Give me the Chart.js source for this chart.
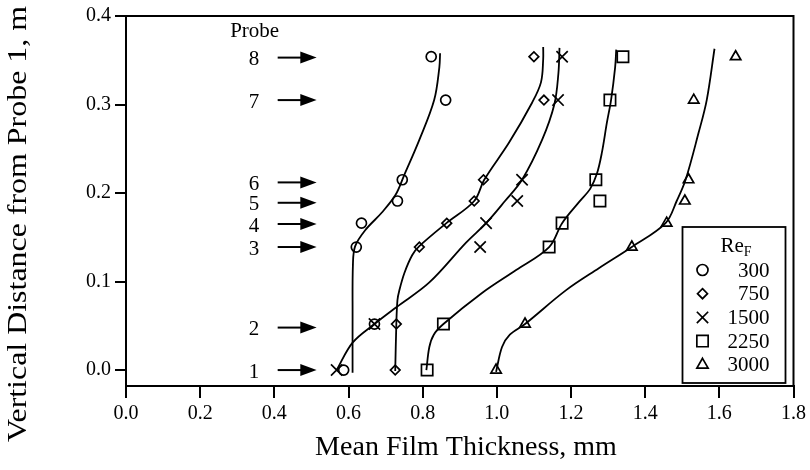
<!DOCTYPE html>
<html><head><meta charset="utf-8">
<script src="https://cdn.jsdelivr.net/npm/chart.js@4.4.0/dist/chart.umd.min.js"></script>
<style>html,body{margin:0;padding:0;background:#fff}#wrap{width:810px;height:470px}</style>
</head><body><div id="wrap"><canvas id="c" width="810" height="470"></canvas></div>
<script>
// ---- data ----
const xTicks = [0, 0.2, 0.4, 0.6, 0.8, 1.0, 1.2, 1.4, 1.6, 1.8];
const yTicks = [0, 0.1, 0.2, 0.3, 0.4];
const probeLabels  = ['1', '2', '3', '4', '5', '6', '7', '8'];
const probeArrowY  = [0.0, 0.048, 0.139, 0.165, 0.189, 0.212, 0.305, 0.353];
const probeHeights = [0.0, 0.052, 0.139, 0.166, 0.191, 0.215, 0.305, 0.354];
const seriesLabels = ['300', '750', '1500', '2250', '3000'];

// mean film thickness (mm) at each probe, one array per Re_F
const thick300  = [0.587, 0.670, 0.621, 0.635, 0.732, 0.745, 0.862, 0.823];
const thick750  = [0.726, 0.729, 0.791, 0.865, 0.939, 0.964, 1.127, 1.100];
const thick1500 = [0.568, 0.670, 0.955, 0.971, 1.055, 1.068, 1.165, 1.176];
const thick2250 = [0.812, 0.856, 1.141, 1.176, 1.278, 1.267, 1.305, 1.340];
const thick3000 = [0.998, 1.076, 1.364, 1.458, 1.507, 1.517, 1.531, 1.644];

// fitted curves: [thickness, height]
const curve300 = [[0.611,-0.003],[0.611,0.06],[0.612,0.12],[0.618,0.140],[0.645,0.158],[0.690,0.178],[0.727,0.198],[0.750,0.220],[0.791,0.260],[0.831,0.305],[0.845,0.342],[0.847,0.358]];
const curve750 = [[0.726,-0.001],[0.729,0.052],[0.732,0.079],[0.737,0.090],[0.751,0.110],[0.772,0.130],[0.791,0.140],[0.864,0.166],[0.939,0.191],[0.966,0.215],[1.033,0.257],[1.095,0.302],[1.119,0.325],[1.125,0.351],[1.125,0.365]];
const curve1500 = [[0.568,0.0],[0.611,0.031],[0.670,0.052],[0.729,0.071],[0.818,0.099],[0.917,0.144],[0.971,0.166],[1.022,0.191],[1.068,0.215],[1.122,0.260],[1.155,0.300],[1.166,0.335],[1.169,0.364]];
const curve2250 = [[0.810,0.0],[0.818,0.026],[0.830,0.040],[0.856,0.052],[0.960,0.087],[1.052,0.113],[1.141,0.139],[1.176,0.166],[1.222,0.190],[1.252,0.205],[1.270,0.222],[1.283,0.245],[1.297,0.280],[1.308,0.305],[1.319,0.342],[1.322,0.362]];
const curve3000 = [[0.998,-0.002],[1.014,0.026],[1.035,0.040],[1.076,0.052],[1.186,0.090],[1.275,0.115],[1.364,0.139],[1.455,0.166],[1.485,0.191],[1.509,0.215],[1.544,0.268],[1.566,0.305],[1.587,0.363]];

const markerStyles = ['circle', 'rectRot', 'crossRot', 'rect', 'triangle'];
const markerRadii  = [5, 4.8, 8, 8, 6];
const legendRadii  = [5.5, 5, 8, 8, 6.5];

const FONT = '"Liberation Serif", "Times New Roman", serif';
const thickSets = [thick300, thick750, thick1500, thick2250, thick3000];
const curveSets = [curve300, curve750, curve1500, curve2250, curve3000];

const datasets = [];
curveSets.forEach((c, i) => {
  datasets.push({
    label: 'fit ' + seriesLabels[i],
    data: c.map(p => ({x: p[0], y: p[1]})),
    showLine: true, borderColor: '#000', borderWidth: 1.8, pointRadius: 0,
    tension: 0.35, fill: false
  });
});
thickSets.forEach((t, i) => {
  datasets.push({
    label: seriesLabels[i],
    data: t.map((v, k) => ({x: v, y: probeHeights[k]})),
    showLine: false, pointStyle: markerStyles[i], pointRadius: markerRadii[i],
    pointBorderColor: '#000', pointBackgroundColor: 'rgba(0,0,0,0)', pointBorderWidth: 1.7
  });
});

function drawMarker(ctx, style, cx, cy, r) {
  ctx.beginPath();
  if (style === 'circle') { ctx.arc(cx, cy, r, 0, Math.PI * 2); }
  else if (style === 'rectRot') { ctx.moveTo(cx, cy - r); ctx.lineTo(cx + r, cy); ctx.lineTo(cx, cy + r); ctx.lineTo(cx - r, cy); ctx.closePath(); }
  else if (style === 'crossRot') { const d = r * Math.SQRT1_2; ctx.moveTo(cx - d, cy - d); ctx.lineTo(cx + d, cy + d); ctx.moveTo(cx + d, cy - d); ctx.lineTo(cx - d, cy + d); }
  else if (style === 'rect') { const s = r * Math.SQRT1_2; ctx.rect(cx - s, cy - s, 2 * s, 2 * s); }
  else if (style === 'triangle') {
    ctx.moveTo(cx, cy - r);
    ctx.lineTo(cx + r * Math.sin(Math.PI * 2 / 3), cy - r * Math.cos(Math.PI * 2 / 3));
    ctx.lineTo(cx + r * Math.sin(Math.PI * 4 / 3), cy - r * Math.cos(Math.PI * 4 / 3));
    ctx.closePath();
  }
  ctx.stroke();
}

const deco = {
  id: 'deco',
  afterDraw(chart) {
    const {ctx, chartArea: a, scales: {x, y}} = chart;
    ctx.save();
    ctx.strokeStyle = '#000'; ctx.fillStyle = '#000';
    // frame top and right
    ctx.lineWidth = 2;
    ctx.beginPath(); ctx.moveTo(a.left, a.top); ctx.lineTo(a.right, a.top); ctx.lineTo(a.right, a.bottom); ctx.stroke();

    // probe labels and arrows
    ctx.font = '21px ' + FONT; ctx.textAlign = 'center'; ctx.textBaseline = 'middle';
    ctx.fillText('Probe', x.getPixelForValue(0.347), y.getPixelForValue(0.382));
    probeLabels.forEach((lab, i) => {
      const py = y.getPixelForValue(probeArrowY[i]);
      ctx.fillText(lab, x.getPixelForValue(0.345), py + 2);
      const x0 = x.getPixelForValue(0.409), x1 = x.getPixelForValue(0.470), x2 = x.getPixelForValue(0.514);
      ctx.lineWidth = 2;
      ctx.beginPath(); ctx.moveTo(x0, py); ctx.lineTo(x1 + 2, py); ctx.stroke();
      ctx.beginPath(); ctx.moveTo(x1, py - 6); ctx.lineTo(x2, py); ctx.lineTo(x1, py + 6); ctx.closePath(); ctx.fill();
    });

    // legend box
    const lx = a.right - 111, ly = a.top + 211, lw = 103, lh = 156;
    ctx.lineWidth = 1.8;
    ctx.strokeRect(lx, ly, lw, lh);
    ctx.textAlign = 'left'; ctx.textBaseline = 'alphabetic';
    ctx.font = '21px ' + FONT;
    ctx.fillText('Re', lx + 38, ly + 25);
    const reW = ctx.measureText('Re').width;
    ctx.font = '14px ' + FONT;
    ctx.fillText('F', lx + 38 + reW, ly + 29);
    ctx.font = '21px ' + FONT; ctx.textAlign = 'right'; ctx.textBaseline = 'middle';
    seriesLabels.forEach((lab, i) => {
      const ry = ly + 43 + i * 23.7;
      ctx.lineWidth = 1.7;
      drawMarker(ctx, markerStyles[i], lx + 20, ry, legendRadii[i]);
      ctx.fillText(lab, lx + 87, ry + 1);
    });

    // axis titles
    ctx.textAlign = 'center'; ctx.textBaseline = 'middle';
    ctx.font = '28px ' + FONT;
    ctx.fillText('Mean Film Thickness, mm', 466, 448);
    ctx.save();
    ctx.translate(19, 224); ctx.rotate(-Math.PI / 2); ctx.scale(1.14, 1);
    ctx.fillText('Vertical Distance from Probe 1, m', 0, 0);
    ctx.restore();
    ctx.restore();
  }
};

new Chart(document.getElementById('c'), {
  type: 'scatter',
  data: {datasets},
  options: {
    responsive: false, animation: false, devicePixelRatio: 1,
    layout: {padding: {left: 0, right: 15, top: 16, bottom: 0}},
    plugins: {legend: {display: false}, tooltip: {enabled: false}},
    scales: {
      x: {
        type: 'linear', min: 0, max: 1.8,
        afterBuildTicks: s => { s.ticks = xTicks.map(v => ({value: v})); },
        afterFit: s => { s.height = 84; },
        ticks: {callback: v => v.toFixed(1), font: {family: FONT, size: 20}, color: '#000', padding: 4, maxRotation: 0, autoSkip: false},
        grid: {drawOnChartArea: false, tickLength: 12, color: '#000', lineWidth: 2},
        border: {color: '#000', width: 2}
      },
      y: {
        type: 'linear', min: -0.018, max: 0.4,
        afterBuildTicks: s => { s.ticks = yTicks.map(v => ({value: v})); },
        afterFit: s => { s.width = 126; },
        ticks: {callback: v => v.toFixed(1), font: {family: FONT, size: 20}, color: '#000', padding: 4, autoSkip: false},
        grid: {drawOnChartArea: false, tickLength: 11, color: '#000', lineWidth: 2},
        border: {color: '#000', width: 2}
      }
    }
  },
  plugins: [deco]
});
</script>
</body></html>
